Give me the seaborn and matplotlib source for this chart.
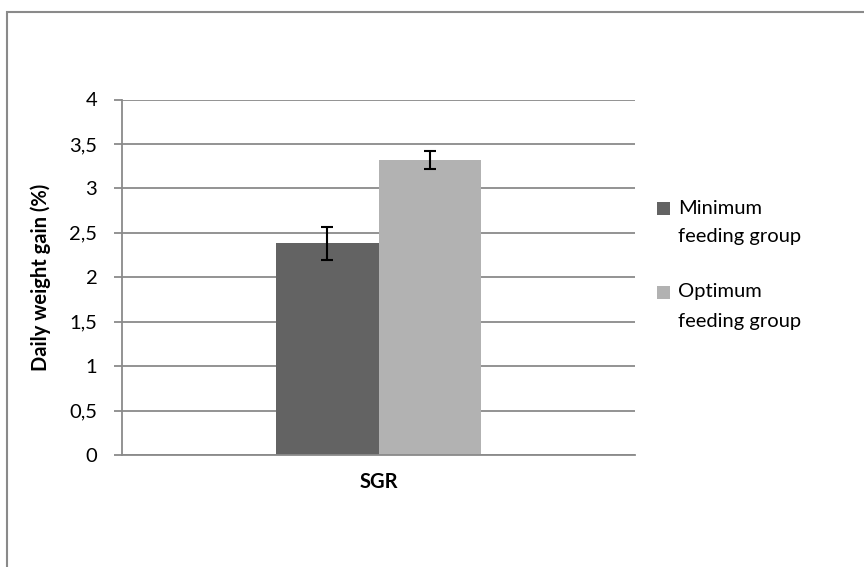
import matplotlib
matplotlib.use("Agg")
import matplotlib.pyplot as plt
import seaborn as sns
import pandas as pd
from matplotlib.patches import Rectangle

categories = ["SGR"]
groups = ["Minimum feeding group", "Optimum feeding group"]
legend_lines = [["Minimum", "feeding group"], ["Optimum", "feeding group"]]
means = [2.38, 3.32]
errors = [0.19, 0.10]
yticks = [0, 0.5, 1, 1.5, 2, 2.5, 3, 3.5, 4]
ytick_labels = ["0", "0,5", "1", "1,5", "2", "2,5", "3", "3,5", "4"]
colors = ["#636363", "#b2b2b2"]

sns.set_theme(style="white")
plt.rcParams["font.family"] = ["Lato", "DejaVu Sans"]
FS = 14.5

df = pd.DataFrame({"cat": categories * 2, "group": groups, "value": means})

W, H = 864, 567
fig = plt.figure(figsize=(W / 100, H / 100), dpi=100)
ax = fig.add_axes([122 / W, 1 - 455 / H, (635 - 122) / W, (455 - 99.5) / H])

sns.barplot(data=df, x="cat", y="value", hue="group", palette=colors,
            width=0.4, gap=0, errorbar=None, ax=ax, legend=False,
            linewidth=0, saturation=1)

# error bars at bar centers
for patch, m, e in zip(ax.patches, means, errors):
    xc = patch.get_x() + patch.get_width() / 2
    ax.errorbar(xc, m, yerr=e, color="black", capsize=4.3, elinewidth=1.5,
                capthick=1.5, zorder=5)

ax.set_xlim(-0.5, 0.5)
ax.set_ylim(0, 4)
ax.set_yticks(yticks)
ax.set_yticklabels(ytick_labels)
ax.yaxis.grid(True, color="#8a8a8a", linewidth=1.3)
ax.set_axisbelow(True)
for s in ["top", "right"]:
    ax.spines[s].set_visible(False)
for s in ["left", "bottom"]:
    ax.spines[s].set_color("#8a8a8a")
    ax.spines[s].set_linewidth(1.3)
ax.tick_params(axis="y", which="both", left=True, length=5.8, width=1.3,
               color="#8a8a8a", labelsize=FS, labelcolor="black", pad=12)
ax.tick_params(axis="x", bottom=False, labelsize=FS, labelcolor="black", pad=6.5)
for lbl in ax.get_xticklabels():
    lbl.set_fontweight("bold")
ax.set_xlabel("")
ax.set_ylabel("")
fig.text(41 / W, 1 - 277 / H, "Daily weight gain (%)", rotation=90,
         fontsize=FS, fontweight="bold", color="black", ha="center", va="center")

# legend (manual, Excel style: square aligned with first line)
entry_y = [208, 292]
line_gap = 29
for (l1, l2), c, yy in zip(legend_lines, colors, entry_y):
    sq = 13
    fig.patches.append(Rectangle((657 / W, 1 - (yy + sq / 2) / H), sq / W, sq / H,
                                 transform=fig.transFigure, facecolor=c,
                                 edgecolor="none"))
    fig.text(678 / W, 1 - yy / H, l1, fontsize=FS, color="black",
             ha="left", va="center")
    fig.text(678 / W, 1 - (yy + line_gap) / H, l2, fontsize=FS, color="black",
             ha="left", va="center")

# outer chart border
fig.patches.append(Rectangle((7 / W, -0.1), 1.2, 1 - 12 / H + 0.1,
                             transform=fig.transFigure, fill=False,
                             edgecolor="#8a8a8a", linewidth=1.5))

fig.savefig("out.png", dpi=100)
